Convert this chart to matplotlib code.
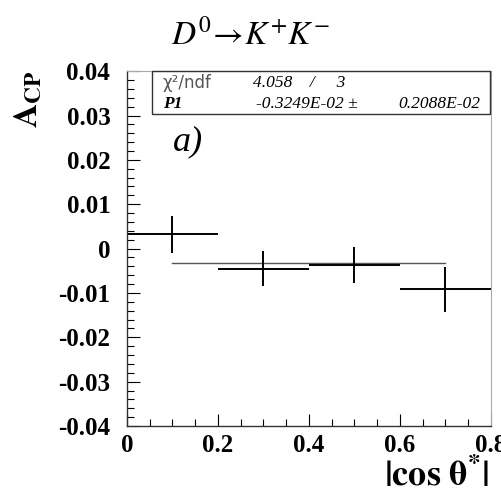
import numpy as np
import matplotlib.pyplot as plt
from matplotlib.patches import Rectangle
from matplotlib.ticker import MultipleLocator

plt.rcParams['mathtext.fontset'] = 'stix'
plt.rcParams['font.family'] = ['Liberation Serif', 'DejaVu Serif']

# data
x_center = [0.1, 0.3, 0.5, 0.7]
x_halfwidth = [0.1, 0.1, 0.1, 0.1]
acp = [0.0032, -0.0045, -0.0037, -0.0092]
acp_err = [0.0041, 0.0040, 0.0040, 0.0050]
fit_p1 = -0.3249e-02
fit_range = [0.1, 0.7]

fig = plt.figure(figsize=(5.02, 4.98), dpi=100)
ax = fig.add_axes([0.253, 0.1446, 0.725, 0.7125])

ax.plot(fit_range, [fit_p1, fit_p1], color='#555555', lw=1.0)
ax.errorbar(x_center, acp, xerr=x_halfwidth, yerr=acp_err, fmt='none',
            ecolor='black', elinewidth=1.4, capsize=0)

ax.set_xlim(0, 0.8)
ax.set_ylim(-0.04, 0.04)
ax.xaxis.set_minor_locator(MultipleLocator(0.05))
ax.yaxis.set_minor_locator(MultipleLocator(0.002))
ax.set_xticks([0, 0.2, 0.4, 0.6, 0.8])
ax.set_xticklabels(['0', '0.2', '0.4', '0.6', '0.8'])
ax.set_yticks([-0.04, -0.03, -0.02, -0.01, 0, 0.01, 0.02, 0.03, 0.04])
ax.set_yticklabels(['-0.04', '-0.03', '-0.02', '-0.01', '0',
                    '0.01', '0.02', '0.03', '0.04'])
ax.tick_params(axis='both', which='major', direction='in', length=9,
               width=0.8, labelsize=18)
ax.tick_params(axis='y', which='major', pad=12)
ax.tick_params(axis='x', which='major', pad=6)
ax.tick_params(axis='both', which='minor', direction='in', length=5, width=0.8)
for lab in ax.get_xticklabels() + ax.get_yticklabels():
    lab.set_fontweight('bold')
ax.tick_params(top=False, right=False)

for s in ['top', 'right']:
    ax.spines[s].set_color('#aaaaaa')
    ax.spines[s].set_linewidth(0.8)
for s in ['left', 'bottom']:
    ax.spines[s].set_color('#333333')
    ax.spines[s].set_linewidth(1.0)

# stats box
ax.add_patch(Rectangle((0.069, 0.879), 0.929, 0.121, transform=ax.transAxes,
                       fill=False, edgecolor='#333333', lw=1.0, clip_on=False,
                       zorder=5))
ax.text(0.098, 0.968, '\u03c7\u00b2/ndf', transform=ax.transAxes, fontsize=12,
        color='#555555', family='DejaVu Sans', va='center')
ax.text(0.347, 0.968, '4.058    /     3', transform=ax.transAxes, fontsize=12.5,
        style='italic', va='center')
ax.text(0.098, 0.907, 'P1', transform=ax.transAxes, fontsize=12.5,
        style='italic', fontweight='bold', va='center')
ax.text(0.355, 0.907, '-0.3249E-02 \u00b1', transform=ax.transAxes,
        fontsize=12.5, style='italic', va='center')
ax.text(0.972, 0.907, '0.2088E-02', transform=ax.transAxes, fontsize=12.5,
        style='italic', va='center', ha='right')

ax.text(0.125, 0.80, 'a)', transform=ax.transAxes, fontsize=26,
        style='italic', va='center')

fig.text(0.5, 0.93, r'$D^0\!\rightarrow\! K^{+}K^{-}$', fontsize=24,
         ha='center', va='center')
fig.text(0.055, 0.8, r'$\mathbf{A}_{\mathbf{CP}}$', fontsize=24,
         rotation=90, ha='center', va='center')
fig.text(0.87, 0.045, r'$\mathbf{|cos\ \theta^{*}|}$', fontsize=26,
         ha='center', va='center')

fig.savefig('out.png', dpi=100)
